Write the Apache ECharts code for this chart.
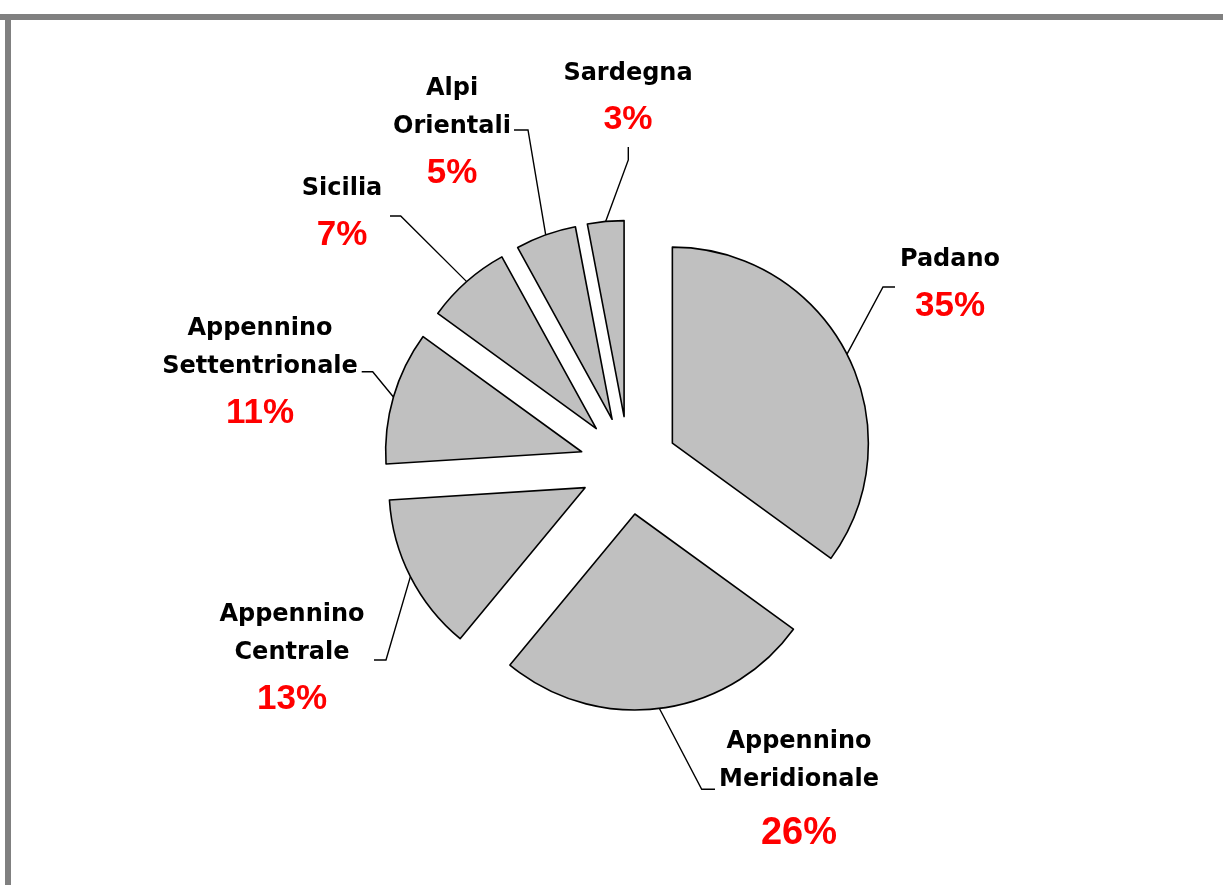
<!DOCTYPE html>
<html>
<head>
<meta charset="utf-8">
<title>Ripartizione per bacino</title>
<script src="https://cdn.jsdelivr.net/npm/echarts@6/dist/echarts.min.js"></script>
<style>
  html, body { margin: 0; padding: 0; background: #fff; }
  #pie { width: 1223px; height: 885px; }
</style>
</head>
<body>
<div id="pie"></div>
<script>
// data
const names = ["Padano", "Appennino\nMeridionale", "Appennino\nCentrale", "Appennino\nSettentrionale", "Sicilia", "Alpi\nOrientali", "Sardegna"];
const values = [35, 26, 13, 11, 7, 5, 3];

// layout (pixels): pie centre, radius, explosion
const pieX = 628.7, pieY = 465.4, pieR = 196, explode = 49;
// label block centre x / top y
const labelX = [950, 799, 292, 260, 342, 452, 628];
const labelTop = [240.7, 722.7, 595.7, 310, 170, 69.7, 54.4];
// leader line knee and end points
const kneePts = [[883, 287], [701.7, 789.3], [386, 660], [372.7, 371.7], [400.7, 216], [528, 130], [628.3, 160]];
const endPts = [[895, 287], [715, 789.3], [374, 660], [361.7, 371.7], [390, 216], [514, 130], [628.3, 147]];
const pctSize = [35, 38, 35, 35, 35, 35, 34];

let total = values.reduce((a, b) => a + b, 0);
let cum = 0;
let series = [];
values.forEach((v, i) => {
  // mid angle, clockwise from 12 o'clock
  let mid = (cum + v / 2) / total * Math.PI * 2;
  cum += v;
  let cx = pieX + explode * Math.sin(mid);
  let cy = pieY - explode * Math.cos(mid);
  series.push({
    type: "pie",
    center: [cx, cy],
    radius: pieR,
    startAngle: 90,
    clockwise: true,
    avoidLabelOverlap: false,
    silent: true,
    emphasis: { disabled: true },
    itemStyle: { color: "#c0c0c0", borderColor: "#000", borderWidth: 1.6 },
    label: {
      show: true,
      position: "outside",
      formatter: (p) => "{n|" + p.name + "}\n{p|" + Math.round(p.percent) + "%}",
      rich: {
        n: { fontFamily: "DejaVu Sans", fontWeight: "bold", fontSize: 24, lineHeight: 38, color: "#000" },
        p: { fontFamily: "Liberation Sans", fontWeight: "bold", fontSize: pctSize[i], lineHeight: pctSize[i] > 35 ? 70 : 55, color: "#ff0000" },
      },
    },
    labelLine: { show: true, length: 20, length2: 10, lineStyle: { color: "#000", width: 1.4 } },
    labelLayout: (params) => {
      let p0 = params.labelLinePoints ? params.labelLinePoints[0] : kneePts[i];
      return {
        x: labelX[i],
        y: labelTop[i],
        align: "center",
        verticalAlign: "top",
        labelLinePoints: [p0, kneePts[i], endPts[i]],
      };
    },
    data: names.map((n, j) => {
      if (j === i) return { name: n, value: values[j] };
      return {
        name: n,
        value: values[j],
        itemStyle: { color: "transparent", borderWidth: 0 },
        label: { show: false },
        labelLine: { show: false },
      };
    }),
  });
});

let myChart = echarts.init(document.getElementById("pie"));
let option = {
  animation: false,
  backgroundColor: "#fff",
  graphic: [
    { type: "rect", shape: { x: 0, y: 14, width: 1223, height: 6 }, style: { fill: "#808080" } },
    { type: "rect", shape: { x: 5, y: 14, width: 6, height: 871 }, style: { fill: "#808080" } },
  ],
  series: series,
};
myChart.setOption(option);
window.addEventListener("resize", () => myChart.resize());
</script>
</body>
</html>
